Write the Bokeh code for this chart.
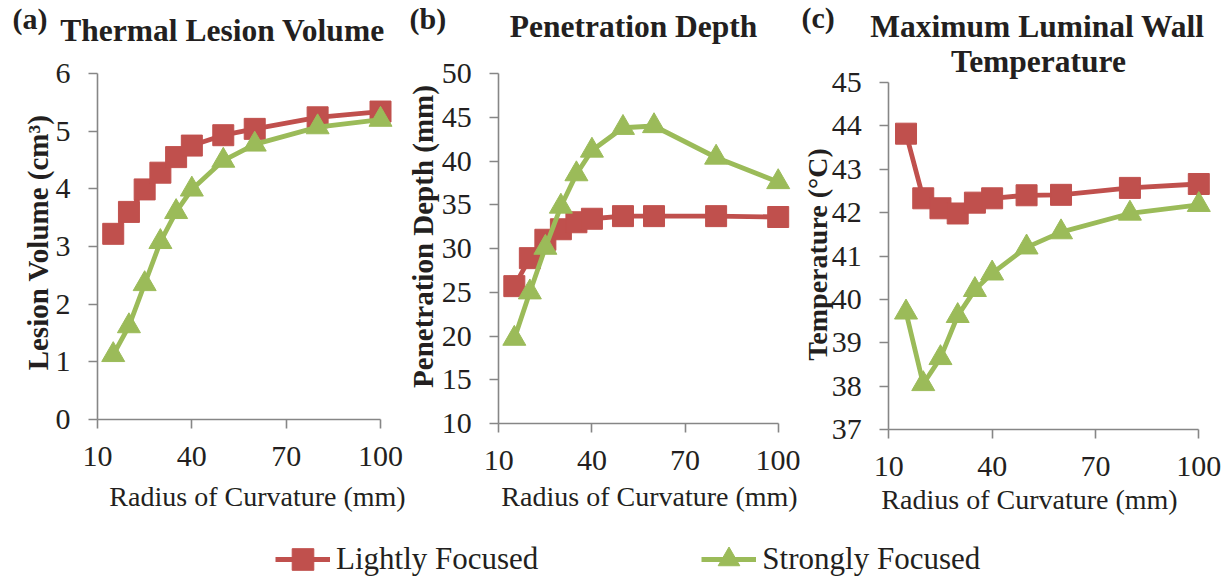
import math
from bokeh.plotting import figure
from bokeh.layouts import row, column
from bokeh.models import (Range1d, FixedTicker, Label, Legend, LegendItem,
                          LinearAxis)
from bokeh.embed import file_html
from bokeh.resources import INLINE

# ---------------- data ----------------
radius_mm = [15, 20, 25, 30, 35, 40, 50, 60, 80, 100]
x_ticks = [10, 40, 70, 100]

volume_light = [3.22, 3.60, 3.99, 4.28, 4.55, 4.75, 4.93, 5.04, 5.24, 5.34]
volume_strong = [1.12, 1.62, 2.35, 3.08, 3.60, 3.99, 4.49, 4.77, 5.07, 5.20]
volume_ticks = [0, 1, 2, 3, 4, 5, 6]

depth_light = [25.7, 28.9, 31.0, 32.2, 33.0, 33.4, 33.7, 33.7, 33.7, 33.6]
depth_strong = [19.7, 25.0, 30.1, 34.8, 38.5, 41.2, 43.8, 44.0, 40.4, 37.6]
depth_ticks = [10, 15, 20, 25, 30, 35, 40, 45, 50]

temp_light = [43.82, 42.33, 42.10, 41.98, 42.23, 42.33, 42.40, 42.41, 42.57, 42.66]
temp_strong = [39.70, 38.05, 38.65, 39.62, 40.22, 40.60, 41.20, 41.55, 41.98, 42.18]
temp_ticks = [37, 38, 39, 40, 41, 42, 43, 44, 45]

series_names = ["Lightly Focused", "Strongly Focused"]
x_label = "Radius of Curvature (mm)"

# ---------------- style ----------------
RED = "#C0504D"
GREEN = "#9BBB59"
AXIS = "#868686"
TXT = "#231F20"
FONT = "Liberation Serif"
FIG_H = 520
XMIN, XMAX = 10, 100


def make_panel(x0, width, Lpx, Rpx, Tpx, Bpx, yrange, yticks, light, strong):
    """Frame covers the whole figure; axes sit at fixed data locations."""
    ymin, ymax = yrange
    ppu = (Rpx - Lpx) / (XMAX - XMIN)
    ppy = (Bpx - Tpx) / (ymax - ymin)
    xr = Range1d(XMIN - Lpx / ppu, XMIN + (width - Lpx) / ppu)
    yr = Range1d(ymin - (FIG_H - Bpx) / ppy, ymax + Tpx / ppy)
    p = figure(width=width, height=FIG_H, x_range=xr, y_range=yr,
               x_axis_location=None, y_axis_location=None,
               output_backend="svg", toolbar_location=None, min_border=0)
    p.outline_line_color = None
    p.grid.visible = False

    xa = LinearAxis(fixed_location=ymin, ticker=FixedTicker(ticks=x_ticks),
                    bounds=(XMIN, XMAX))
    ya = LinearAxis(fixed_location=XMIN, ticker=FixedTicker(ticks=yticks),
                    bounds=(ymin, ymax))
    for ax in (xa, ya):
        ax.axis_line_color = AXIS
        ax.axis_line_width = 1.6
        ax.major_tick_line_color = AXIS
        ax.major_tick_line_width = 1.6
        ax.major_tick_out = 9
        ax.major_tick_in = 0
        ax.minor_tick_out = 0
        ax.minor_tick_in = 0
        ax.major_label_text_font = FONT
        ax.major_label_text_font_size = "30px"
        ax.major_label_text_color = TXT
    xa.major_label_standoff = 18
    ya.major_label_standoff = 18
    p.add_layout(xa, "below")
    p.add_layout(ya, "left")

    p.line(radius_mm, light, line_color=RED, line_width=4.8)
    p.scatter(radius_mm, light, marker="square", size=21,
              fill_color=RED, line_color=RED)
    p.line(radius_mm, strong, line_color=GREEN, line_width=4.8)
    p.scatter(radius_mm, strong, marker="triangle", size=23,
              fill_color=GREEN, line_color=GREEN)

    def txt(X, Y, text, size, bold=False, align="center", angle=0.0,
            baseline="alphabetic"):
        if baseline == "alphabetic":
            Y = Y - 0.4 * size  # compensate renderer's baseline placement
        xd = XMIN + (X - x0 - Lpx) / ppu
        yd = ymin + (Bpx - Y) / ppy
        p.add_layout(Label(x=xd, y=yd, x_units="data", y_units="data",
                           text=text, text_font=FONT,
                           text_font_size=f"{size}px",
                           text_font_style="bold" if bold else "normal",
                           text_color=TXT, text_align=align,
                           text_baseline=baseline, angle=angle))
    return p, txt


# Panel (a)
pa, ta = make_panel(0, 407, 97.0, 380.0, 73.0, 419.0, (0, 6), volume_ticks,
                    volume_light, volume_strong)
ta(12, 30, "(a)", 30, bold=True, align="left")
ta(222, 43, "Thermal Lesion Volume", 31.5, bold=True)
ta(37, 242, "Lesion Volume (cm³)", 29, bold=True, angle=math.pi / 2,
   baseline="middle")
ta(257, 507, x_label, 28)

# Panel (b)
pb, tb = make_panel(407, 393, 91.3, 370.7, 73.0, 423.0, (10, 50), depth_ticks,
                    depth_light, depth_strong)
tb(409, 30, "(b)", 30, bold=True, align="left")
tb(633, 39, "Penetration Depth", 31.5, bold=True)
tb(422, 236, "Penetration Depth (mm)", 29, bold=True, angle=math.pi / 2,
   baseline="middle")
tb(649, 507, x_label, 28)

# Panel (c)
pc, tc = make_panel(800, 428, 88.3, 398.3, 82.0, 429.0, (37, 45), temp_ticks,
                    temp_light, temp_strong)
tc(801, 29, "(c)", 30, bold=True, align="left")
tc(1037, 39, "Maximum Luminal Wall", 31.5, bold=True)
tc(1038, 74, "Temperature", 31.5, bold=True)
tc(817, 254, "Temperature (°C)", 28, bold=True, angle=math.pi / 2,
   baseline="middle")
tc(1029, 510, x_label, 28)

# Legend strip
leg = figure(width=1228, height=58, x_range=Range1d(-2, -1), y_range=Range1d(-2, -1),
             x_axis_type=None, y_axis_type=None, output_backend="svg",
             toolbar_location=None, min_border=0)
leg.outline_line_color = None
leg.grid.visible = False
l1 = leg.line(radius_mm, volume_light, line_color=RED, line_width=4.8)
m1 = leg.scatter(radius_mm, volume_light, marker="square", size=21,
                 fill_color=RED, line_color=RED)
l2 = leg.line(radius_mm, volume_strong, line_color=GREEN, line_width=4.8)
m2 = leg.scatter(radius_mm, volume_strong, marker="triangle", size=23,
                 fill_color=GREEN, line_color=GREEN)
legend = Legend(items=[LegendItem(label=series_names[0], renderers=[l1, m1]),
                       LegendItem(label=series_names[1], renderers=[l2, m2])],
                orientation="horizontal", location=(275, -8),
                glyph_width=55, glyph_height=54, label_standoff=6,
                spacing=163, padding=0, margin=0,
                border_line_color=None, background_fill_alpha=0,
                label_text_font=FONT, label_text_font_size="31px",
                label_text_color=TXT)
leg.add_layout(legend)

layout = column(row(pa, pb, pc), leg)
open("out.html", "w").write(file_html(layout, INLINE))
